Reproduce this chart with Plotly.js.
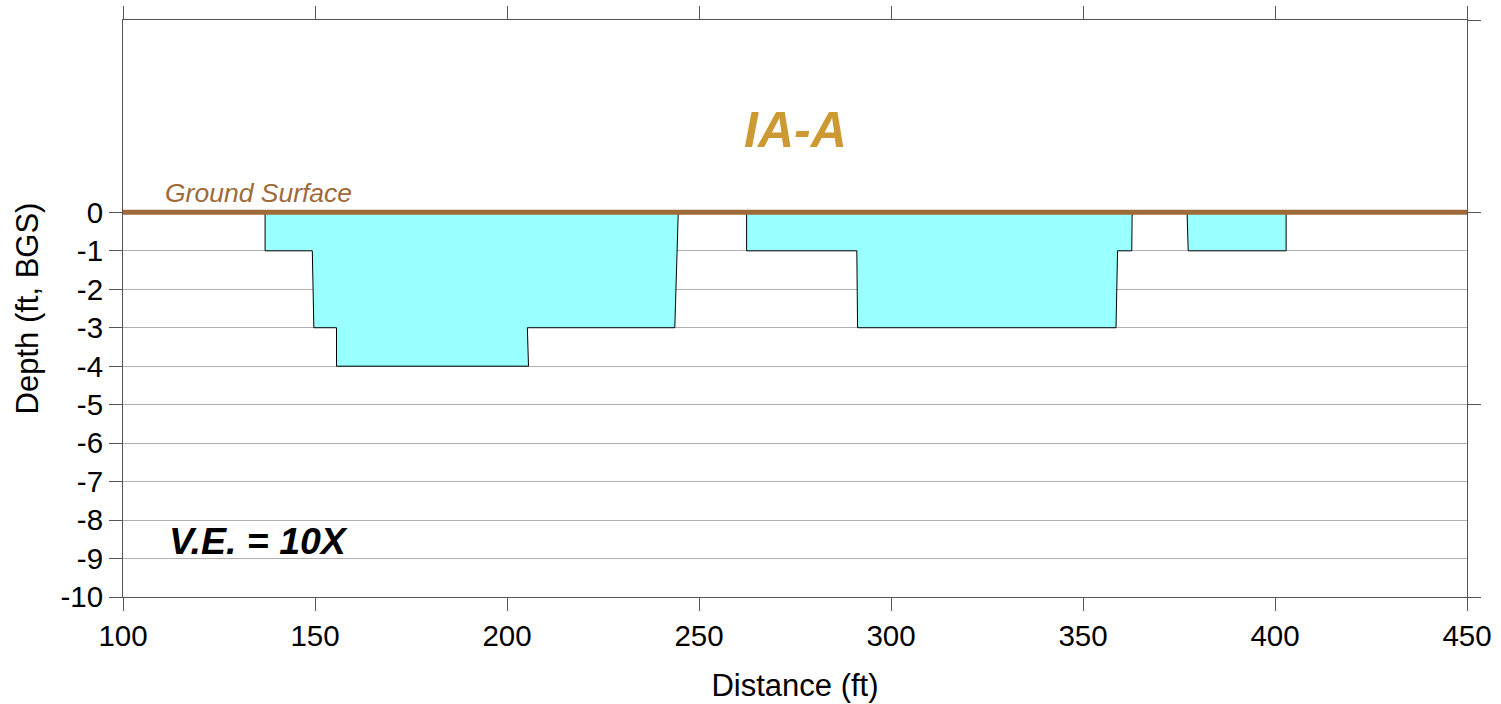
<!DOCTYPE html>
<html>
<head>
<meta charset="utf-8">
<script src="https://cdn.plot.ly/plotly-3.0.1.min.js"></script>
<style>html,body{margin:0;padding:0;background:#fff;}#chart{width:1501px;height:704px;}</style>
</head>
<body>
<div id="chart"></div>
<script>
// Excavation zone outlines (distance ft, depth ft BGS)
const zone1X = [137, 137, 149.3, 149.7, 155.6, 155.6, 205.6, 205.3, 243.7, 244.6];
const zone1Y = [0, -1, -1, -3, -3, -4, -4, -3, -3, 0];
const zone2X = [262.4, 262.4, 291.1, 291.3, 358.6, 359.0, 362.7, 362.8];
const zone2Y = [0, -1, -1, -3, -3, -1, -1, 0];
const zone3X = [377.1, 377.4, 402.9, 402.9];
const zone3Y = [0, -1, -1, 0];
const groundX = [100, 450];
const groundY = [0, 0];
const xTicks = [100, 150, 200, 250, 300, 350, 400, 450];
const yTicks = [0, -1, -2, -3, -4, -5, -6, -7, -8, -9, -10];
const yRightTicks = [5, 0, -5, -10];

const FONT = 'Liberation Sans, Arial, sans-serif';
function zone(x, y) {
  return {x: x, y: y, type: 'scatter', mode: 'lines', fill: 'toself',
    fillcolor: '#99FFFF', line: {color: '#000000', width: 1}, hoverinfo: 'skip', showlegend: false};
}
const traces = [
  zone(zone1X, zone1Y), zone(zone2X, zone2Y), zone(zone3X, zone3Y),
  {x: groundX, y: groundY, type: 'scatter', mode: 'lines', line: {color: '#9E6A38', width: 5},
   cliponaxis: false, showlegend: false, hoverinfo: 'skip'},
  {x: [100], y: [5], yaxis: 'y2', type: 'scatter', mode: 'markers', marker: {opacity: 0}, showlegend: false, hoverinfo: 'skip'}
];
const layout = {
  width: 1501, height: 704,
  margin: {l: 123, r: 34, t: 20, b: 107},
  paper_bgcolor: '#ffffff', plot_bgcolor: '#ffffff',
  font: {family: FONT, color: '#000000', size: 29},
  showlegend: false,
  xaxis: {
    range: [100, 450], tickvals: xTicks, ticktext: xTicks.map(String),
    ticks: 'outside', ticklen: 13, tickcolor: '#555555', tickwidth: 1,
    showline: true, linecolor: '#555555', linewidth: 1, mirror: 'ticks',
    showgrid: false, zeroline: false,
    tickfont: {size: 29.5, family: FONT},
    title: {text: 'Distance (ft)', font: {size: 31, family: FONT}, standoff: 22}
  },
  yaxis: {
    range: [-10, 5], tickvals: yTicks, ticktext: yTicks.map(String),
    ticks: 'outside', ticklen: 13, tickcolor: '#555555', tickwidth: 1,
    showline: true, linecolor: '#555555', linewidth: 1, mirror: true,
    showgrid: true, gridcolor: '#b0b0b0', gridwidth: 1, zeroline: false,
    tickfont: {size: 29.5, family: FONT},
    title: {text: 'Depth (ft, BGS)', font: {size: 31, family: FONT}, standoff: 12}
  },
  yaxis2: {
    range: [-10, 5], overlaying: 'y', side: 'right', tickvals: yRightTicks,
    ticks: 'outside', ticklen: 13, tickcolor: '#555555', showticklabels: false,
    showline: false, showgrid: false, zeroline: false
  },
  annotations: [
    {x: 275, y: 2.15, xref: 'x', yref: 'y', text: '<b><i>IA-A</i></b>', showarrow: false,
     font: {size: 50, color: '#CC9933', family: FONT}, xanchor: 'center', yanchor: 'middle'},
    {x: 110.5, y: 0.5, xref: 'x', yref: 'y', text: '<i>Ground Surface</i>', showarrow: false,
     font: {size: 26.5, color: '#9E6A38', family: FONT}, xanchor: 'left', yanchor: 'middle'},
    {x: 111.4, y: -8.55, xref: 'x', yref: 'y', text: '<b><i>V.E. = 10X</i></b>', showarrow: false,
     font: {size: 37.5, color: '#000000', family: FONT}, xanchor: 'left', yanchor: 'middle'}
  ]
};
Plotly.newPlot('chart', traces, layout, {displayModeBar: false, staticPlot: true});
</script>
</body>
</html>
